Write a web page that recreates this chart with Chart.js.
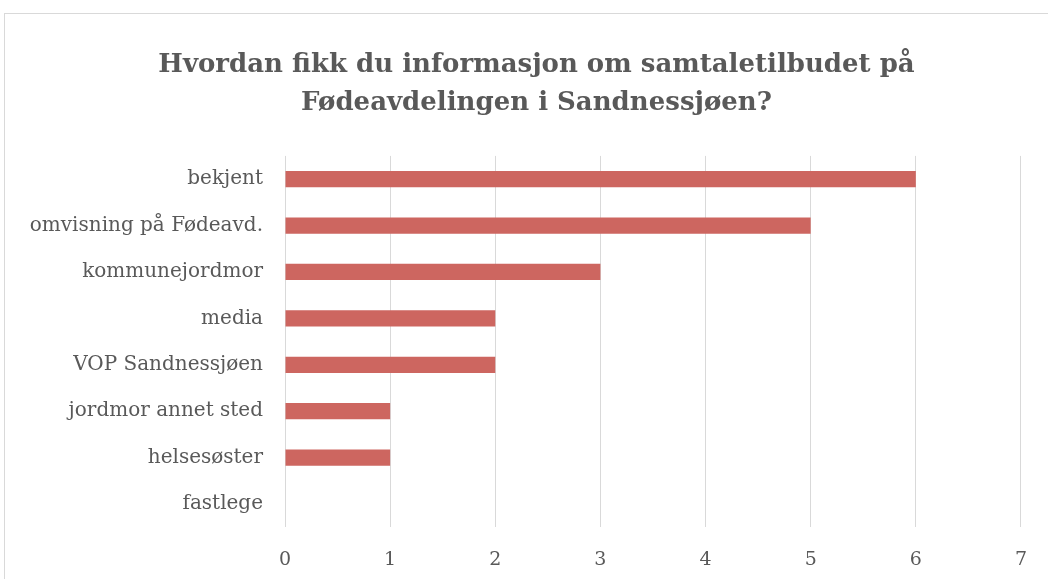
<!DOCTYPE html>
<html lang="no">
<head>
    <meta charset="UTF-8">
    <title>Hvordan fikk du informasjon om samtaletilbudet</title>
    <script src="https://cdn.jsdelivr.net/npm/chart.js"></script>
    <style>
        body { margin: 0; background: #fff; }
        .frame { position: absolute; left: 4px; top: 13px; width: 1200px; height: 800px; border: 1px solid #d9d9d9; }
        .wrap { position: absolute; left: 0; top: 0; width: 1048px; height: 579px; }
    </style>
</head>
<body>
    <div class="frame"></div>
    <div class="wrap"><canvas id="chart"></canvas></div>

    <script>
        // Data
        var categories = ['bekjent', 'omvisning på Fødeavd.', 'kommunejordmor', 'media',
                          'VOP Sandnessjøen', 'jordmor annet sted', 'helsesøster', 'fastlege'];
        var values = [6, 5, 3, 2, 2, 1, 1, 0];
        var titleLines = ['Hvordan fikk du informasjon om samtaletilbudet på',
                          'Fødeavdelingen i Sandnessjøen?'];
        var xMin = 0, xMax = 7, xStep = 1;

        var textColor = '#595959';
        var serif = "'DejaVu Serif', 'Liberation Serif', serif";

        // the title sits a little right of the canvas centre in the original
        var titleShift = {
            id: 'titleShift',
            afterLayout: function (chart) {
                if (chart.titleBlock) {
                    chart.titleBlock.left += 11;
                    chart.titleBlock.right += 11;
                }
            }
        };

        var ctx = document.getElementById('chart').getContext('2d');
        new Chart(ctx, {
            type: 'bar',
            data: {
                labels: categories,
                datasets: [{
                    data: values,
                    backgroundColor: '#cd6660',
                    categoryPercentage: 1,
                    barPercentage: 0.35
                }]
            },
            options: {
                indexAxis: 'y',
                responsive: true,
                maintainAspectRatio: false,
                animation: false,
                layout: { padding: { left: 20, right: 17, top: 0, bottom: -13 } },
                plugins: {
                    legend: { display: false },
                    tooltip: { enabled: false },
                    title: {
                        display: true,
                        text: titleLines,
                        color: textColor,
                        font: { family: serif, size: 26, weight: 'bold', lineHeight: 1.46 },
                        padding: { top: 46, bottom: 34 }
                    }
                },
                scales: {
                    x: {
                        min: xMin,
                        max: xMax,
                        ticks: { stepSize: xStep, color: textColor, padding: 21,
                                 font: { family: serif, size: 19 } },
                        grid: { color: '#d9d9d9', drawTicks: false },
                        border: { display: false }
                    },
                    y: {
                        afterFit: function (scale) { scale.width = 265; },
                        ticks: { color: textColor, padding: 14, font: { family: serif, size: 20 } },
                        grid: { display: false },
                        border: { display: false }
                    }
                }
            },
            plugins: [titleShift]
        });
    </script>
</body>
</html>
